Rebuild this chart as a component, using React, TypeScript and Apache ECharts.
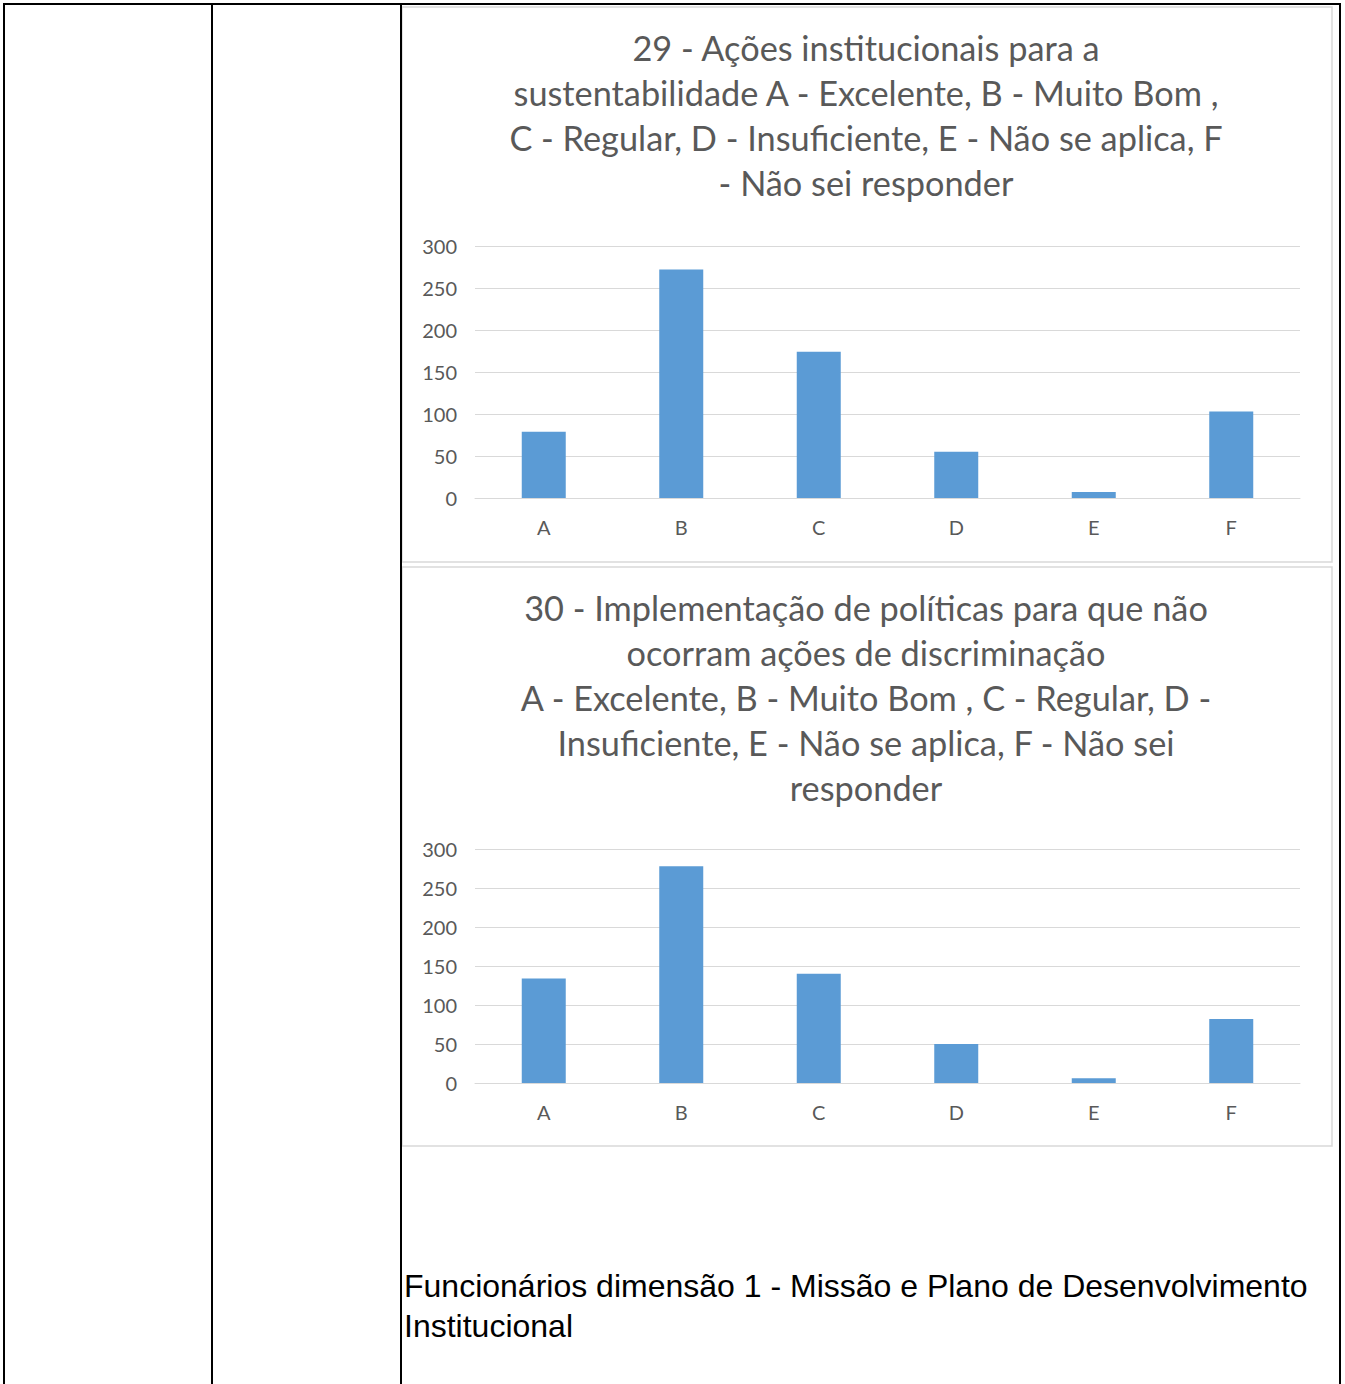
import React, { useEffect, useRef } from "react";
import * as echarts from "echarts";

const categories = ["A", "B", "C", "D", "E", "F"];
const values29 = [79, 272, 174, 55, 7, 103];
const values30 = [134, 278, 140, 50, 6, 82];
const yTicks = { min: 0, max: 300, interval: 50 };

const title29 =
  "29 - Ações institucionais para a\nsustentabilidade A - Excelente, B - Muito Bom ,\nC - Regular, D - Insuficiente, E - Não se aplica, F\n- Não sei responder";
const title30 =
  "30 - Implementação de políticas para que não\nocorram ações de discriminação\nA - Excelente, B - Muito Bom , C - Regular, D -\nInsuficiente, E - Não se aplica, F - Não sei\nresponder";
const footerText =
  "Funcionários dimensão 1 - Missão e Plano de Desenvolvimento\nInstitucional";

const TITLE_FONT = "Lato, 'Open Sans', sans-serif";
const AXIS_FONT = "Lato, 'Open Sans', sans-serif";
const GRAY = "#595959";
const GRID = "#d9d9d9";
const BAR = "#5b9bd5";

export default function App() {
  const ref = useRef<HTMLDivElement>(null);
  useEffect(() => {
    if (!ref.current) return;
    const chart = echarts.init(ref.current, null, { renderer: "svg" });
    const mkX = (gridIndex: number) => ({
      type: "category",
      gridIndex,
      data: categories,
      axisLine: { show: true, lineStyle: { color: GRID, width: 1 } },
      axisTick: { show: false },
      axisLabel: { color: GRAY, fontSize: 20, fontFamily: AXIS_FONT, margin: 19 },
    });
    const mkY = (gridIndex: number) => ({
      type: "value",
      gridIndex,
      min: yTicks.min,
      max: yTicks.max,
      interval: yTicks.interval,
      axisLine: { show: false },
      axisTick: { show: false },
      splitLine: { lineStyle: { color: GRID, width: 1 } },
      axisLabel: { color: GRAY, fontSize: 20, fontFamily: AXIS_FONT, margin: 18 },
    });
    const titleStyle = {
      color: GRAY,
      fontSize: 34.3,
      lineHeight: 45,
      fontWeight: "normal",
      fontFamily: TITLE_FONT,
    };
    chart.setOption({
      animation: false,
      backgroundColor: "#ffffff",
      title: [
        { text: title29, left: 866, top: 25, textAlign: "center", padding: 0, textStyle: titleStyle },
        { text: title30, left: 866, top: 585, textAlign: "center", padding: 0, textStyle: titleStyle },
      ],
      grid: [
        { left: 475, width: 825, top: 246, height: 252 },
        { left: 475, width: 825, top: 849, height: 234 },
      ],
      xAxis: [mkX(0), mkX(1)],
      yAxis: [mkY(0), mkY(1)],
      series: [
        { type: "bar", xAxisIndex: 0, yAxisIndex: 0, data: values29, barWidth: 44, itemStyle: { color: BAR } },
        { type: "bar", xAxisIndex: 1, yAxisIndex: 1, data: values30, barWidth: 44, itemStyle: { color: BAR } },
      ],
      graphic: [
        { type: "rect", z: -10, shape: { x: 402, y: 7, width: 930, height: 555 }, style: { fill: "#ffffff", stroke: GRID, lineWidth: 1.5 } },
        { type: "rect", z: -10, shape: { x: 402, y: 567, width: 930, height: 579 }, style: { fill: "#ffffff", stroke: GRID, lineWidth: 1.5 } },
        { type: "rect", shape: { x: 3, y: 3, width: 1338, height: 2 }, style: { fill: "#000" } },
        { type: "rect", shape: { x: 3, y: 3, width: 2, height: 1381 }, style: { fill: "#000" } },
        { type: "rect", shape: { x: 211, y: 3, width: 2, height: 1381 }, style: { fill: "#000" } },
        { type: "rect", shape: { x: 400, y: 3, width: 2, height: 1381 }, style: { fill: "#000" } },
        { type: "rect", shape: { x: 1339, y: 3, width: 2, height: 1381 }, style: { fill: "#000" } },
        {
          type: "text",
          x: 404,
          y: 1266,
          style: {
            text: footerText,
            fill: "#000",
            fontSize: 32,
            lineHeight: 40,
            fontFamily: "'Liberation Sans', Arial, sans-serif",
            textVerticalAlign: "top",
          },
        },
      ],
    });
    return () => chart.dispose();
  }, []);
  return (
    <div
      ref={ref}
      style={{ position: "absolute", left: 0, top: 0, width: 1345, height: 1384, background: "#fff" }}
    />
  );
}
